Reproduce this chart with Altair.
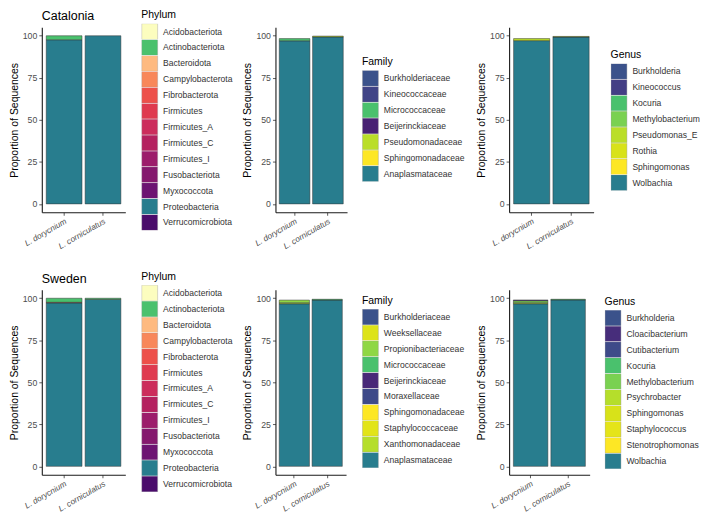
import altair as alt
import pandas as pd

plants = ["L. dorycnium", "L. corniculatus"]

# ---------------- Catalonia ----------------
cat_phylum_levels = ["Acidobacteriota", "Actinobacteriota", "Bacteroidota", "Campylobacterota",
                     "Fibrobacterota", "Firmicutes", "Firmicutes_A", "Firmicutes_C", "Firmicutes_I",
                     "Fusobacteriota", "Myxococcota", "Proteobacteria", "Verrucomicrobiota"]
phylum_colors = ["#FCFDBF", "#4AC16D", "#FEBA80", "#F8875A", "#ED504A", "#DF3A4F", "#CC2D5C",
                 "#B4215F", "#9C1D6B", "#85196E", "#6D1472", "#287D8E", "#4A0C6B"]
cat_phylum_plant = ["L. dorycnium", "L. dorycnium", "L. corniculatus"]
cat_phylum_taxon = ["Proteobacteria", "Actinobacteriota", "Proteobacteria"]
cat_phylum_value = [97.6, 2.4, 100.0]

cat_family_levels = ["Burkholderiaceae", "Kineococcaceae", "Micrococcaceae", "Beijerinckiaceae",
                     "Pseudomonadaceae", "Sphingomonadaceae", "Anaplasmataceae"]
cat_family_colors = ["#3B528B", "#414487", "#4AC16D", "#482173", "#BADE28", "#FDE725", "#287D8E"]
cat_family_plant = ["L. dorycnium", "L. dorycnium", "L. corniculatus", "L. corniculatus"]
cat_family_taxon = ["Anaplasmataceae", "Micrococcaceae", "Anaplasmataceae", "Pseudomonadaceae"]
cat_family_value = [97.0, 1.3, 99.3, 0.5]

cat_genus_levels = ["Burkholderia", "Kineococcus", "Kocuria", "Methylobacterium", "Pseudomonas_E",
                    "Rothia", "Sphingomonas", "Wolbachia"]
cat_genus_colors = ["#3B528B", "#433E85", "#4AC16D", "#7AD151", "#BADE28", "#D8E219", "#FDE725", "#287D8E"]
cat_genus_plant = ["L. dorycnium", "L. dorycnium", "L. corniculatus", "L. corniculatus"]
cat_genus_taxon = ["Wolbachia", "Pseudomonas_E", "Wolbachia", "Pseudomonas_E"]
cat_genus_value = [97.1, 1.2, 99.2, 0.4]

# ---------------- Sweden ----------------
swe_phylum_plant = ["L. dorycnium", "L. dorycnium", "L. dorycnium", "L. corniculatus", "L. corniculatus"]
swe_phylum_taxon = ["Proteobacteria", "Firmicutes", "Actinobacteriota", "Proteobacteria", "Actinobacteriota"]
swe_phylum_value = [97.2, 0.4, 2.4, 99.3, 0.7]

swe_family_levels = ["Burkholderiaceae", "Weeksellaceae", "Propionibacteriaceae", "Micrococcaceae",
                     "Beijerinckiaceae", "Moraxellaceae", "Sphingomonadaceae", "Staphylococcaceae",
                     "Xanthomonadaceae", "Anaplasmataceae"]
swe_family_colors = ["#3B528B", "#DDE318", "#8FD744", "#4AC16D", "#482878", "#3E4A89", "#FDE725",
                     "#E2E418", "#B5DE2B", "#287D8E"]
swe_family_plant = ["L. dorycnium", "L. dorycnium", "L. dorycnium", "L. corniculatus", "L. corniculatus"]
swe_family_taxon = ["Anaplasmataceae", "Xanthomonadaceae", "Propionibacteriaceae", "Anaplasmataceae", "Micrococcaceae"]
swe_family_value = [96.7, 0.6, 1.6, 98.9, 0.5]

swe_genus_levels = ["Burkholderia", "Cloacibacterium", "Cutibacterium", "Kocuria", "Methylobacterium",
                    "Psychrobacter", "Sphingomonas", "Staphylococcus", "Stenotrophomonas", "Wolbachia"]
swe_genus_colors = ["#3B528B", "#472D7B", "#3E4A89", "#4AC16D", "#7AD151", "#B5DE2B", "#D8E219",
                    "#E5E419", "#FDE725", "#287D8E"]
swe_genus_plant = ["L. dorycnium", "L. dorycnium", "L. dorycnium", "L. dorycnium", "L. corniculatus", "L. corniculatus"]
swe_genus_taxon = ["Wolbachia", "Psychrobacter", "Methylobacterium", "Cloacibacterium", "Wolbachia", "Kocuria"]
swe_genus_value = [96.7, 0.6, 1.2, 0.5, 99.0, 0.4]

PANEL_W = 85
PANEL_H = 186


def panel(plant_list, taxon_list, value_list, levels, colors, legend_title, plot_w, lx, ly, title=None):
    df = pd.DataFrame({"plant": plant_list, "taxon": taxon_list, "value": value_list})
    df["ord"] = [-levels.index(t) for t in taxon_list]
    bars = alt.Chart(df).mark_bar(stroke="#333333", strokeWidth=0.5).encode(
        x=alt.X("plant:N", sort=plants, title=None,
                scale=alt.Scale(domain=plants, range=[0, plot_w], paddingInner=0.08, paddingOuter=0.114)),
        y=alt.Y("value:Q", stack="zero", title="Proportion of Sequences",
                scale=alt.Scale(domain=[-5, 105], nice=False, zero=False),
                axis=alt.Axis(values=[0, 25, 50, 75, 100])),
        color=alt.Color("taxon:N", scale=alt.Scale(domain=levels, range=colors),
                        legend=alt.Legend(title=legend_title, orient="none", legendX=lx, legendY=ly,
                                          rowPadding=0, clipHeight=15.5,
                                          titleFontWeight="normal", titleFontSize=10.5,
                                          titleColor="#000000", titlePadding=3, labelFontSize=8.6,
                                          labelColor="#333333", labelOffset=5, symbolType="square",
                                          symbolSize=256, symbolStrokeColor="#999999",
                                          symbolStrokeWidth=0.4, symbolOpacity=1, padding=0)),
        order=alt.Order("ord:Q", sort="ascending"),
    ).properties(width=PANEL_W, height=PANEL_H)
    if title:
        tdf = pd.DataFrame({"t": [title]})
        txt = alt.Chart(tdf).mark_text(align="left", baseline="alphabetic", fontSize=12.5,
                                       color="#000000").encode(
            x=alt.value(0), y=alt.value(-7), text="t:N")
        return alt.layer(bars, txt).properties(width=PANEL_W, height=PANEL_H)
    return bars


p1 = panel(cat_phylum_plant, cat_phylum_taxon, cat_phylum_value, cat_phylum_levels, phylum_colors,
           "Phylum", 84, 100, -17, "Catalonia")
p2 = panel(cat_family_plant, cat_family_taxon, cat_family_value, cat_family_levels, cat_family_colors,
           "Family", 72, 87, 30)
p3 = panel(cat_genus_plant, cat_genus_taxon, cat_genus_value, cat_genus_levels, cat_genus_colors,
           "Genus", 85, 102, 23)
p4 = panel(swe_phylum_plant, swe_phylum_taxon, swe_phylum_value, cat_phylum_levels, phylum_colors,
           "Phylum", 84, 100, -18, "Sweden")
p5 = panel(swe_family_plant, swe_family_taxon, swe_family_value, swe_family_levels, swe_family_colors,
           "Family", 71, 87, 6)
p6 = panel(swe_genus_plant, swe_genus_taxon, swe_genus_value, swe_genus_levels, swe_genus_colors,
           "Genus", 81, 96, 7)

chart = alt.concat(p1, p2, p3, p4, p5, p6, columns=3,
                   spacing={"row": 78, "column": 150}, bounds="flush").resolve_scale(
    x="independent", y="independent", color="independent"
).properties(
    padding={"left": 0, "top": 0, "right": 0, "bottom": 0}
).configure(
    font="Liberation Sans"
).configure_view(
    stroke="transparent"
).configure_axis(
    domainColor="#1a1a1a", domainWidth=1.1, tickColor="#333333", tickSize=3, tickWidth=0.8,
    labelColor="#4d4d4d", labelFontSize=8.8, titleFontSize=10.5, titleFontWeight="normal",
    titleColor="#000000", grid=False, labelPadding=2, titlePadding=3
).configure_axisX(
    labelAngle=-30, labelAlign="right", labelBaseline="top", labelFontStyle="italic", labelFontSize=8.2
).configure_legend(
    rowPadding=0
)

chart.save("out.html", embed_options={"renderer": "svg", "actions": False})
